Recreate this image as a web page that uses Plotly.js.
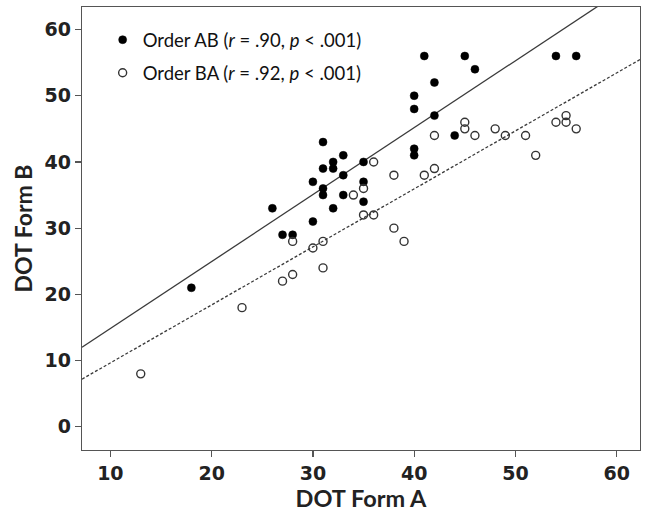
<!DOCTYPE html>
<html>
<head>
<meta charset="utf-8">
<script src="https://cdn.plot.ly/plotly-3.0.1.min.js"></script>
<style>html,body{margin:0;padding:0;background:#fff;}#chart{width:647px;height:521px;}</style>
</head>
<body>
<div id="chart"></div>
<script>
// Order AB (filled circles)
const abFormA = [18,26,27,28,30,30,31,31,31,31,32,32,32,33,33,33,35,35,35,40,40,40,40,41,42,42,44,45,46,54,56];
const abFormB = [21,33,29,29,37,31,43,39,36,35,40,39,33,41,38,35,40,37,34,50,48,42,41,56,52,47,44,56,54,56,56];
// Order BA (open circles)
const baFormA = [13,23,27,28,28,30,31,31,34,35,35,36,36,38,38,39,41,42,42,45,45,46,48,49,51,52,54,55,55,56];
const baFormB = [8,18,22,23,28,27,28,24,35,36,32,40,32,38,30,28,38,44,39,46,45,44,45,44,44,41,46,47,46,45];
const seriesNames = ['Order AB (<i>r</i> = .90, <i>p</i> &lt; .001)', 'Order BA (<i>r</i> = .92, <i>p</i> &lt; .001)'];
const xTicks = [10,20,30,40,50,60];
const yTicks = [0,10,20,30,40,50,60];
const xRange = [7.2, 62.3];
const yRange = [-3.5, 63.4];

function fit(xs, ys) {
  const n = xs.length;
  const mx = xs.reduce((a,b)=>a+b,0)/n, my = ys.reduce((a,b)=>a+b,0)/n;
  let sxy = 0, sxx = 0;
  for (let i=0;i<n;i++){ sxy += (xs[i]-mx)*(ys[i]-my); sxx += (xs[i]-mx)**2; }
  const b = sxy/sxx, a = my - b*mx;
  return {x: xRange.slice(), y: xRange.map(v => a + b*v)};
}
const fAB = fit(abFormA, abFormB);
const fBA = fit(baFormA, baFormB);

const traces = [
  {x: fAB.x, y: fAB.y, mode:'lines', line:{color:'#3a3a3a', width:1.3}, showlegend:false, hoverinfo:'skip'},
  {x: fBA.x, y: fBA.y, mode:'lines', line:{color:'#3a3a3a', width:1.3, dash:'3px,2px'}, showlegend:false, hoverinfo:'skip'},
  {x: abFormA, y: abFormB, mode:'markers', name: seriesNames[0], legendgroup:'ab',
   marker:{symbol:'circle', size:8, color:'#000', line:{color:'#000', width:0.5}}},
  {x: baFormA, y: baFormB, mode:'markers', name: seriesNames[1], legendgroup:'ba',
   marker:{symbol:'circle-open', size:8, color:'#333', line:{color:'#333', width:1.4}}}
];

const axisCommon = {
  showgrid:false, zeroline:false, showline:true, linecolor:'#555', linewidth:1.3, mirror:true,
  ticks:'outside', ticklen:6, tickwidth:1.3, tickcolor:'#555',
  tickfont:{family:'DejaVu Sans', size:19, color:'#222', weight:'bold'}
};

const layout = {
  width:647, height:521,
  margin:{l:82, r:7, t:7, b:71},
  paper_bgcolor:'#fff', plot_bgcolor:'#fff',
  showlegend:true,
  legend:{x:0.037, y:0.968, xanchor:'left', yanchor:'top', bgcolor:'rgba(0,0,0,0)', borderwidth:0,
          font:{family:'Lato', size:18.5, color:'#111'}, itemwidth:30, tracegroupgap:6, traceorder:'grouped'},
  xaxis: Object.assign({}, axisCommon, {range:xRange, tickvals:xTicks, ticktext:xTicks.map(String),
    title:{text:'DOT Form A', font:{family:'Lato', size:23.5, color:'#222', weight:'bold'}, standoff:6}}),
  yaxis: Object.assign({}, axisCommon, {range:yRange, tickvals:yTicks, ticktext:yTicks.map(String),
    title:{text:'DOT Form B', font:{family:'Lato', size:23, color:'#222', weight:'bold'}, standoff:5}})
};

Plotly.newPlot('chart', traces, layout, {displayModeBar:false, staticPlot:true});
</script>
</body>
</html>
